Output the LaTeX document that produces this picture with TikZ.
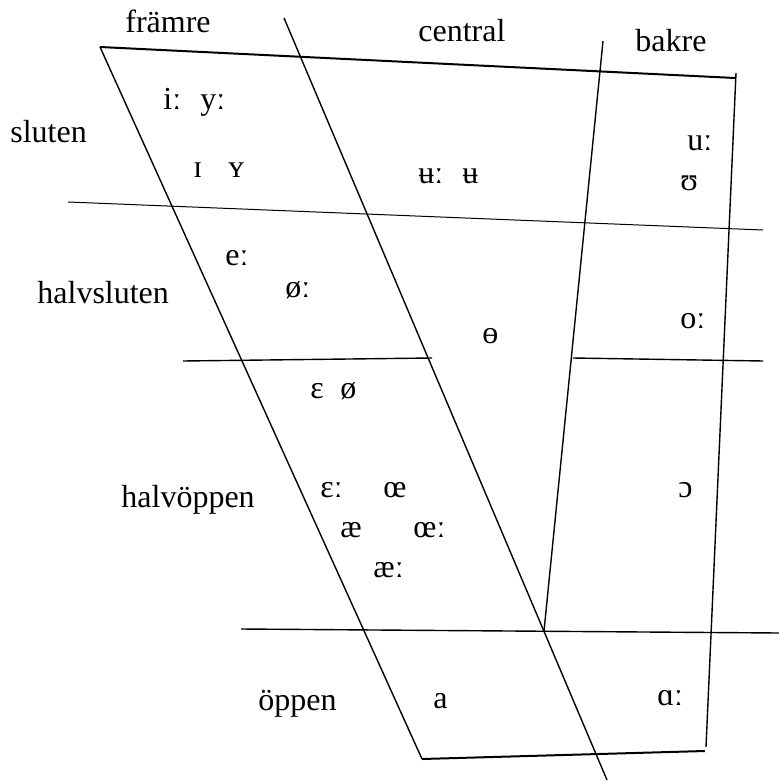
\documentclass[tikz,border=0pt]{standalone}
\usepackage{fontspec}
\setmainfont{Liberation Serif}
\usepackage{tikz}

\begin{document}
\begin{tikzpicture}[
  x=0.5pt, y=-0.5pt,
  every node/.style={font=\fontsize{16}{19}\selectfont, inner sep=0pt, anchor=base west},
  frame/.style={draw=black, line width=1pt},
  border/.style={draw=black, line width=0.7pt},
  grid/.style={draw=black, line width=0.5pt}
]
  \useasboundingbox (0,0) rectangle (779,781);

  % Columns and outline
  \draw[frame] (100,47) -- (735,78);
  \draw[frame] (422,759) -- (705,751);
  \draw[border] (100,47) -- (422,759);
  \draw[border] (284,18) -- (607,780);
  \draw[border] (603,41) -- (544,631);
  \draw[border] (736,73) -- (706,747);

  % Rows
  \draw[grid] (68,202) -- (763,230);
  \draw[border] (183,361) -- (432,358);
  \draw[border] (573,358) -- (763,361);
  \draw[border] (241,629) -- (779,633);

  % Column headings
  \node (framre) at (125,33) {främre};
  \node (central) at (418,42) {central};
  \node (bakre) at (635,52) {bakre};

  % Row headings
  \node (sluten) at (10,142) {sluten};
  \node (halvsluten) at (37,303) {halvsluten};
  \node (halvoppen) at (121,507) {halvöppen};
  \node (oppen) at (258,710) {öppen};

  % Vowels
  \node (ilong) at (163,110) {iː};
  \node (ylong) at (200,110) {yː};
  \node (ishort) at (193,177) {ɪ};
  \node (yshort) at (228,177) {ʏ};
  \node (ubarlong) at (418,183) {ʉː};
  \node (ubar) at (462,183) {ʉ};
  \node (ulong) at (687,150) {uː};
  \node (ushort) at (680,190) {ʊ};
  \node (elong) at (225,265) {eː};
  \node (oslong) at (285,297) {øː};
  \node (obar) at (482,343) {ɵ};
  \node (olong) at (680,328) {oː};
  \node (eps) at (310,398) {ɛ};
  \node (osl) at (340,398) {ø};
  \node (epslong) at (320,497) {ɛː};
  \node (oe) at (383,497) {œ};
  \node (ae) at (340,537) {æ};
  \node (oelong) at (413,537) {œː};
  \node (aelong) at (373,577) {æː};
  \node (openo) at (678,497) {ɔ};
  \node (afront) at (433,708) {a};
  \node (aback) at (657,705) {ɑː};

\end{tikzpicture}
\end{document}
